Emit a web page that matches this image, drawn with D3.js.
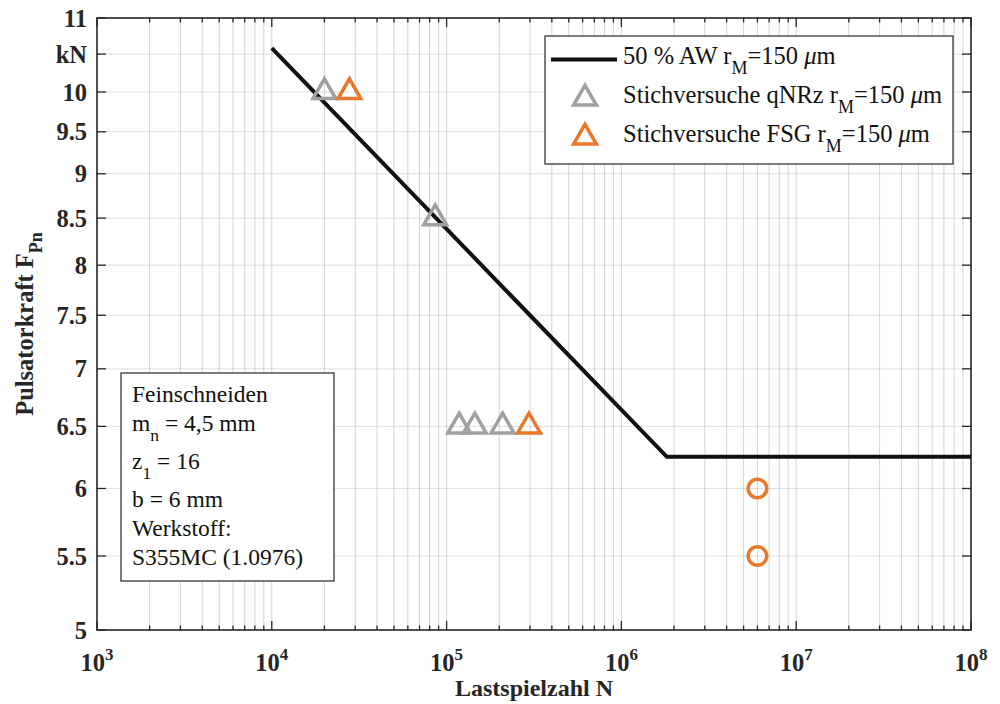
<!DOCTYPE html>
<html>
<head>
<meta charset="utf-8">
<script src="https://cdn.jsdelivr.net/npm/d3@7"></script>
<style>
  body { margin: 0; background: #fff; }
  text { font-family: "Liberation Serif", "Times New Roman", serif; }
</style>
</head>
<body>
<div id="chart"></div>
<script>
// Wöhlerlinie (50 % AW)
var lineN = [1e4, 1.82e6, 1e8];
var lineF = [10.58, 6.25, 6.25];

// Stichversuche qNRz
var qnrzN = [2e4, 8.6e4, 1.18e5, 1.45e5, 2.09e5];
var qnrzF = [10, 8.5, 6.5, 6.5, 6.5];

// Stichversuche FSG
var fsgN = [2.78e4, 2.96e5];
var fsgF = [10, 6.5];

// Durchläufer (FSG)
var runN = [6e6, 6e6];
var runF = [6, 5.5];

var yTicks = [5, 5.5, 6, 6.5, 7, 7.5, 8, 8.5, 9, 9.5, 10, 10.5, 11];
var yTickLabels = ["5", "5.5", "6", "6.5", "7", "7.5", "8", "8.5", "9", "9.5", "10", "kN", "11"];
var xDecades = [3, 4, 5, 6, 7, 8];

var boxLines = [
    { t: "Feinschneiden" },
    { t: "m", s: "n", r: " = 4,5 mm" },
    { t: "z", s: "1", r: " = 16" },
    { t: "b = 6 mm" },
    { t: "Werkstoff:" },
    { t: "S355MC (1.0976)" }
];

var legendItems = [
    { label: "50 % AW r", type: "line", color: "#111111" },
    { label: "Stichversuche qNRz r", type: "tri", color: "#a0a0a0" },
    { label: "Stichversuche FSG r", type: "tri", color: "#e8782a" }
];

var gray = "#a0a0a0", orange = "#e8782a", axisCol = "#262626";

var svg = d3.select("#chart").append("svg")
    .attr("width", 1000)
    .attr("height", 704);

var x = d3.scaleLog().domain([1e3, 1e8]).range([97, 971]);
var y = d3.scaleLog().domain([5, 11]).range([630, 18]);

// minor/major x values
var xAll = [];
xDecades.forEach(function(d) {
    for (var k = 1; k <= 9; k++) {
        var v = k * Math.pow(10, d);
        if (v <= 1e8) xAll.push(v);
    }
});

// grid
var grid = svg.append("g");
grid.selectAll("line.vg")
    .data(xAll.filter(function(v) { return v > 1e3 && v < 1e8; }))
    .enter().append("line")
    .attr("x1", d => x(d)).attr("x2", d => x(d))
    .attr("y1", y(11)).attr("y2", y(5))
    .attr("stroke", "rgba(38,38,38,0.2)")
    .attr("stroke-width", 1);

grid.selectAll("line.hg")
    .data(yTicks.filter(function(v) { return v > 5 && v < 11; }))
    .enter().append("line")
    .attr("x1", x(1e3)).attr("x2", x(1e8))
    .attr("y1", d => y(d)).attr("y2", d => y(d))
    .attr("stroke", "rgba(38,38,38,0.15)")
    .attr("stroke-width", 1);

// axes box + ticks
var ax = svg.append("g").attr("stroke", axisCol);
function isMajor(v) { return Math.abs(Math.log10(v) - Math.round(Math.log10(v))) < 1e-9; }

ax.selectAll("line.xb")
    .data(xAll)
    .enter().append("line")
    .attr("x1", d => x(d)).attr("x2", d => x(d))
    .attr("y1", y(5)).attr("y2", d => y(5) - (isMajor(d) ? 9 : 4.5))
    .attr("stroke-width", 1.3);
ax.selectAll("line.xt")
    .data(xAll)
    .enter().append("line")
    .attr("x1", d => x(d)).attr("x2", d => x(d))
    .attr("y1", y(11)).attr("y2", d => y(11) + (isMajor(d) ? 9 : 4.5))
    .attr("stroke-width", 1.3);
ax.selectAll("line.yl")
    .data(yTicks)
    .enter().append("line")
    .attr("x1", x(1e3)).attr("x2", x(1e3) + 9)
    .attr("y1", d => y(d)).attr("y2", d => y(d))
    .attr("stroke-width", 1.3);
ax.selectAll("line.yr")
    .data(yTicks)
    .enter().append("line")
    .attr("x1", x(1e8)).attr("x2", x(1e8) - 9)
    .attr("y1", d => y(d)).attr("y2", d => y(d))
    .attr("stroke-width", 1.3);

ax.append("rect")
    .attr("x", x(1e3)).attr("y", y(11))
    .attr("width", x(1e8) - x(1e3)).attr("height", y(5) - y(11))
    .attr("fill", "none")
    .attr("stroke-width", 1.6);

// tick labels
svg.selectAll("text.ytl")
    .data(yTicks)
    .enter().append("text")
    .attr("x", x(1e3) - 10)
    .attr("y", d => y(d))
    .attr("dy", "0.35em")
    .attr("text-anchor", "end")
    .attr("font-size", "24.5px")
    .attr("font-weight", "bold")
    .attr("fill", axisCol)
    .text((d, i) => yTickLabels[i]);

var xl = svg.selectAll("text.xtl")
    .data(xDecades)
    .enter().append("text")
    .attr("x", d => x(Math.pow(10, d)))
    .attr("y", 671)
    .attr("text-anchor", "middle")
    .attr("font-size", "24.5px")
    .attr("font-weight", "bold")
    .attr("fill", axisCol);
xl.append("tspan").text("10");
xl.append("tspan").attr("dy", -11).attr("font-size", "17px").text(d => d);

// axis labels
svg.append("text")
    .attr("x", (x(1e3) + x(1e8)) / 2)
    .attr("y", 696)
    .attr("text-anchor", "middle")
    .attr("font-size", "24px")
    .attr("font-weight", "bold")
    .attr("fill", axisCol)
    .text("Lastspielzahl N");

var yl = svg.append("text")
    .attr("transform", "translate(33," + ((y(5) + y(11)) / 2) + ") rotate(-90)")
    .attr("text-anchor", "middle")
    .attr("font-size", "24.5px")
    .attr("font-weight", "bold")
    .attr("fill", axisCol);
yl.append("tspan").text("Pulsatorkraft F");
yl.append("tspan").attr("dy", 9).attr("font-size", "18px").text("Pn");

// Wöhlerlinie
var lineData = lineN.map((n, i) => [n, lineF[i]]);
svg.append("path")
    .datum(lineData)
    .attr("d", d3.line().x(d => x(d[0])).y(d => y(d[1])))
    .attr("fill", "none")
    .attr("stroke", "#111111")
    .attr("stroke-width", 4);

// markers
var tri = d3.symbol().type(d3.symbolTriangle).size(225);
function drawTri(ns, fs, col) {
    svg.append("g").selectAll("path")
        .data(ns.map((n, i) => [n, fs[i]]))
        .enter().append("path")
        .attr("d", tri)
        .attr("transform", d => "translate(" + x(d[0]) + "," + y(d[1]) + ")")
        .attr("fill", "none")
        .attr("stroke", col)
        .attr("stroke-width", 3.5);
}
drawTri(qnrzN, qnrzF, gray);
drawTri(fsgN, fsgF, orange);

svg.append("g").selectAll("circle")
    .data(runN.map((n, i) => [n, runF[i]]))
    .enter().append("circle")
    .attr("cx", d => x(d[0]))
    .attr("cy", d => y(d[1]))
    .attr("r", 9.3)
    .attr("fill", "none")
    .attr("stroke", orange)
    .attr("stroke-width", 3.5);

// legend
var lg = svg.append("g");
lg.append("rect")
    .attr("x", 545).attr("y", 36)
    .attr("width", 408).attr("height", 128)
    .attr("fill", "#fff")
    .attr("stroke", axisCol)
    .attr("stroke-width", 1.2);

var rows = lg.selectAll("g.row")
    .data(legendItems)
    .enter().append("g")
    .attr("transform", (d, i) => "translate(0," + (59.5 + i * 39) + ")");

rows.filter(d => d.type == "line").append("line")
    .attr("x1", 551).attr("x2", 617)
    .attr("stroke", d => d.color)
    .attr("stroke-width", 4);
rows.filter(d => d.type == "tri").append("path")
    .attr("d", tri)
    .attr("transform", "translate(585,0)")
    .attr("fill", "none")
    .attr("stroke", d => d.color)
    .attr("stroke-width", 3.5);

var lt = rows.append("text")
    .attr("x", 623)
    .attr("y", 4)
    .attr("font-size", "24.5px")
    .attr("fill", "#111");
lt.append("tspan").text(d => d.label);
lt.append("tspan").attr("dy", 10).attr("font-size", "18px").text("M");
lt.append("tspan").attr("dy", -10).text("=150 ");
lt.append("tspan").attr("font-style", "italic").text("\u03bc");
lt.append("tspan").text("m");

// Textbox
var tb = svg.append("g");
tb.append("rect")
    .attr("x", 121).attr("y", 373)
    .attr("width", 213).attr("height", 208)
    .attr("fill", "#fff")
    .attr("stroke", axisCol)
    .attr("stroke-width", 1.2);

var by = 402;
boxLines.forEach(function(l, i) {
    if (i > 0) by += (boxLines[i - 1].s ? 38 : 29);
    var t = tb.append("text")
        .attr("x", 132)
        .attr("y", by)
        .attr("font-size", "23.5px")
        .attr("fill", "#111");
    t.append("tspan").text(l.t);
    if (l.s) {
        t.append("tspan").attr("dy", 10).attr("font-size", "17.5px").text(l.s);
        t.append("tspan").attr("dy", -10).text(l.r);
    }
});
</script>
</body>
</html>
